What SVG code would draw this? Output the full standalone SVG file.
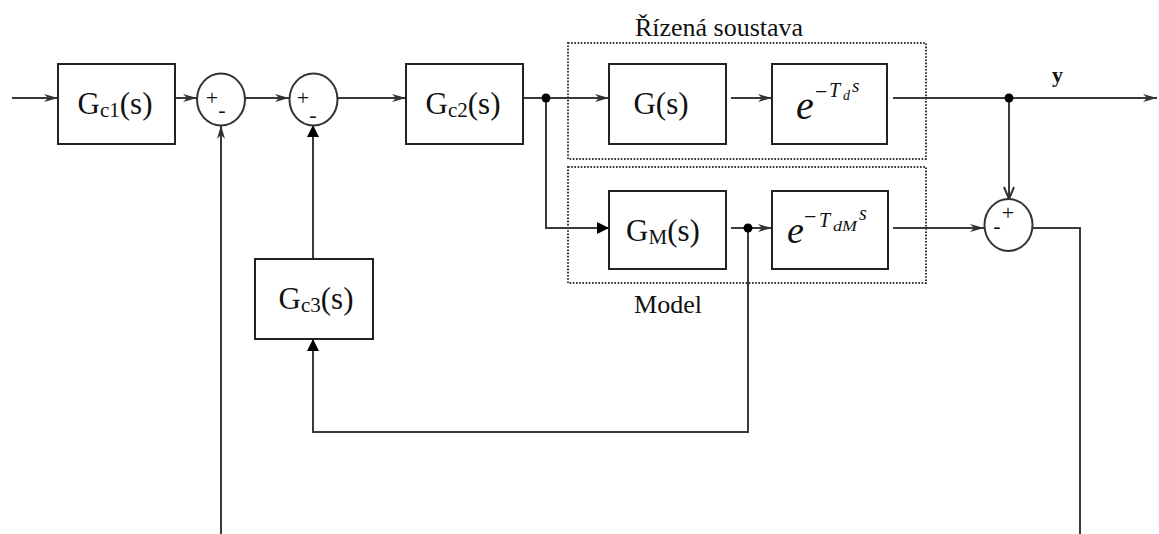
<svg xmlns="http://www.w3.org/2000/svg" width="1159" height="534" viewBox="0 0 1159 534">
<style>
.blk{fill:#fff;stroke:#222;stroke-width:2}
.sum{fill:#fff;stroke:#333;stroke-width:2}
.ln{fill:none;stroke:#3a3a3a;stroke-width:2}
.dot{fill:#000}
.dash{fill:none;stroke:#333;stroke-width:2;stroke-dasharray:1.6 1.6}
text{font-family:'Liberation Serif','DejaVu Serif',serif;fill:#111}
.g{font-size:31px}
.sb{font-size:21px}
.lbl{font-size:25px}
.sg{font-size:22px}
.it{font-style:italic}
</style>
<defs>
<marker id="barb" markerUnits="userSpaceOnUse" markerWidth="15" markerHeight="9" refX="14" refY="4.5" orient="auto">
<path d="M0,0.5 L14,4.5 L0,8.5 L4,4.5 z" fill="#333"/>
</marker>
<marker id="tri" markerUnits="userSpaceOnUse" markerWidth="13" markerHeight="13" refX="12" refY="6" orient="auto">
<path d="M0,0 L12,6 L0,12 z" fill="#000"/>
</marker>
<marker id="vee" markerUnits="userSpaceOnUse" markerWidth="14" markerHeight="12" refX="13" refY="6" orient="auto">
<path d="M1,1 L13,6 L1,11" fill="none" stroke="#333" stroke-width="2"/>
</marker>
</defs>

<g id="connectors">
<line class="ln" x1="12" y1="98" x2="58" y2="98" marker-end="url(#barb)"/>
<line class="ln" x1="175" y1="98" x2="197" y2="98" marker-end="url(#barb)"/>
<line class="ln" x1="245" y1="98" x2="289" y2="98" marker-end="url(#barb)"/>
<line class="ln" x1="337" y1="98" x2="406" y2="98" marker-end="url(#barb)"/>
<line class="ln" x1="523" y1="98" x2="609" y2="98" marker-end="url(#barb)"/>
<line class="ln" x1="731" y1="98" x2="772" y2="98" marker-end="url(#barb)"/>
<line class="ln" x1="893" y1="98" x2="1157" y2="98" marker-end="url(#barb)"/>
<polyline class="ln" points="546,98 546,228 609,228" marker-end="url(#tri)"/>
<line class="ln" x1="731" y1="228" x2="772" y2="228" marker-end="url(#barb)"/>
<line class="ln" x1="893" y1="228" x2="984" y2="228" marker-end="url(#barb)"/>
<line class="ln" x1="1009" y1="98" x2="1009" y2="199" marker-end="url(#vee)"/>
<polyline class="ln" points="1033,228 1080,228 1080,534"/>
<polyline class="ln" points="748,228 748,432 313,432 313,339" marker-end="url(#tri)"/>
<line class="ln" x1="313" y1="259" x2="313" y2="125" marker-end="url(#tri)"/>
<line class="ln" x1="221" y1="534" x2="221" y2="125" marker-end="url(#barb)"/>
<circle class="dot" cx="546" cy="98" r="4.5"/>
<circle class="dot" cx="748" cy="228" r="4.5"/>
<circle class="dot" cx="1009" cy="98" r="4.5"/>
</g>

<g id="plant-frame">
<rect class="dash" x="568" y="43" width="358" height="116"/>
<text class="lbl" x="635" y="36" font-family="'Liberation Serif', serif" textLength="168" lengthAdjust="spacingAndGlyphs">Řízená soustava</text>
</g>
<g id="model-frame">
<rect class="dash" x="568" y="167" width="358" height="116"/>
<text class="lbl" x="634" y="313" font-family="'Liberation Serif', serif" textLength="68" lengthAdjust="spacingAndGlyphs">Model</text>
</g>

<g id="Gc1">
<rect class="blk" x="58" y="64" width="117" height="80"/>
<text class="g" x="115" y="114" text-anchor="middle" font-family="'Liberation Serif', serif">G<tspan class="sb" dy="3">c1</tspan><tspan dy="-3">(s)</tspan></text>
</g>
<g id="sum1">
<ellipse class="sum" cx="221" cy="99.5" rx="24" ry="26"/>
<text class="sg" x="212" y="105" text-anchor="middle" font-family="'Liberation Serif', serif">+</text>
<text class="sg" x="222" y="117" text-anchor="middle" font-family="'Liberation Serif', serif">-</text>
</g>
<g id="sum2">
<ellipse class="sum" cx="313.5" cy="99.5" rx="24" ry="26"/>
<text class="sg" x="303" y="105" text-anchor="middle" font-family="'Liberation Serif', serif">+</text>
<text class="sg" x="313" y="122" text-anchor="middle" font-family="'Liberation Serif', serif">-</text>
</g>
<g id="Gc2">
<rect class="blk" x="406" y="64" width="117" height="80"/>
<text class="g" x="463" y="114" text-anchor="middle" font-family="'Liberation Serif', serif">G<tspan class="sb" dy="3">c2</tspan><tspan dy="-3">(s)</tspan></text>
</g>
<g id="G">
<rect class="blk" x="609" y="64" width="117" height="80"/>
<text class="g" x="661" y="114" text-anchor="middle" font-family="'Liberation Serif', serif">G(s)</text>
</g>
<g id="delay">
<rect class="blk" x="772" y="64" width="115" height="80"/>
<text class="it" x="796" y="119" font-size="40" font-family="'Liberation Serif', serif">e</text>
<text x="815" y="99" font-size="22" font-family="'Liberation Serif', serif">−</text>
<text class="it" x="829" y="97" font-size="20" font-family="'Liberation Serif', serif">T</text>
<text class="it" x="843" y="100" font-size="14" font-family="'Liberation Serif', serif">d</text>
<text class="it" x="852" y="92" font-size="19" font-family="'Liberation Serif', serif">s</text>
</g>
<g id="GM">
<rect class="blk" x="609" y="191" width="117" height="78"/>
<text class="g" x="663" y="241" text-anchor="middle" font-family="'Liberation Serif', serif">G<tspan class="sb" dy="3">M</tspan><tspan dy="-3">(s)</tspan></text>
</g>
<g id="delayM">
<rect class="blk" x="772" y="191" width="116" height="78"/>
<text class="it" x="787" y="243" font-size="38" font-family="'Liberation Serif', serif">e</text>
<text x="804" y="224" font-size="22" font-family="'Liberation Serif', serif">−</text>
<text class="it" x="819" y="227" font-size="20" font-family="'Liberation Serif', serif">T</text>
<text class="it" x="833" y="231" font-size="15" font-family="'Liberation Serif', serif" textLength="24" lengthAdjust="spacingAndGlyphs">dM</text>
<text class="it" x="859" y="220" font-size="20" font-family="'Liberation Serif', serif">s</text>
</g>
<g id="sum3">
<ellipse class="sum" cx="1008.5" cy="225" rx="24" ry="26"/>
<text class="sg" x="1008" y="220" text-anchor="middle" font-family="'Liberation Serif', serif">+</text>
<text class="sg" x="997" y="233" text-anchor="middle" font-family="'Liberation Serif', serif">-</text>
</g>
<g id="Gc3">
<rect class="blk" x="255" y="259" width="118" height="80"/>
<text class="g" x="316" y="309" text-anchor="middle" font-family="'Liberation Serif', serif">G<tspan class="sb" dy="3">c3</tspan><tspan dy="-3">(s)</tspan></text>
</g>
<g id="y-label">
<text x="1052" y="82" font-size="22" font-weight="bold" font-family="'Liberation Serif', serif">y</text>
</g>
</svg>
